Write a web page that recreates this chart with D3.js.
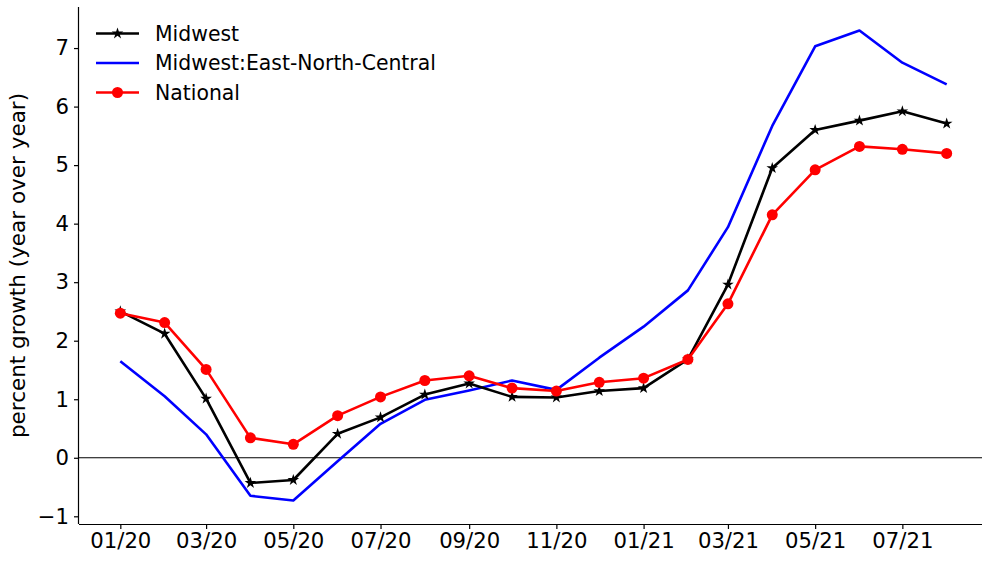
<!DOCTYPE html>
<html>
<head>
<meta charset="utf-8">
<script src="https://cdn.jsdelivr.net/npm/d3@7"></script>
<style>
  html, body { margin: 0; padding: 0; background: #fff; }
  svg { display: block; font-family: "DejaVu Sans", sans-serif; }
</style>
</head>
<body>
<svg id="chart" width="982" height="561"></svg>
<script>
// Monthly year-over-year growth, Jan 2020 – Aug 2021
const months = ["2020-01","2020-02","2020-03","2020-04","2020-05","2020-06","2020-07","2020-08","2020-09","2020-10",
                "2020-11","2020-12","2021-01","2021-02","2021-03","2021-04","2021-05","2021-06","2021-07","2021-08"];
const midwest = [2.50, 2.12, 1.01, -0.43, -0.38, 0.41, 0.69, 1.08, 1.27, 1.04,
                 1.03, 1.14, 1.19, 1.68, 2.96, 4.95, 5.60, 5.76, 5.92, 5.71];
const eastNorthCentral = [1.65, 1.05, 0.40, -0.65, -0.73, -0.06, 0.58, 0.99, 1.15, 1.32,
                          1.16, 1.71, 2.24, 2.86, 3.94, 5.67, 7.03, 7.30, 6.75, 6.38];
const national = [2.47, 2.31, 1.51, 0.34, 0.23, 0.72, 1.04, 1.32, 1.40, 1.19,
                  1.14, 1.29, 1.36, 1.68, 2.63, 4.15, 4.92, 5.32, 5.27, 5.20];
const xTicks = ["2020-01","2020-03","2020-05","2020-07","2020-09","2020-11","2021-01","2021-03","2021-05","2021-07"];
const yTicks = [-1, 0, 1, 2, 3, 4, 5, 6, 7];
const seriesNames = ["Midwest", "Midwest:East-North-Central", "National"];

const parse = d3.timeParse("%Y-%m");
const dates = months.map(parse);

const svg = d3.select("#chart");
const plot = { left: 79, right: 988, top: 7, bottom: 524 };

// matplotlib-style 5% margins around the data
const x0 = dates[0], x1 = dates[dates.length - 1];
const span = x1 - x0;
const x = d3.scaleTime()
  .domain([new Date(+x0 - span * 0.05), new Date(+x1 + span * 0.05)])
  .range([plot.left, plot.right]);
const allY = midwest.concat(eastNorthCentral, national);
const yMin = d3.min(allY), yMax = d3.max(allY), ySpan = yMax - yMin;
const y = d3.scaleLinear()
  .domain([yMin - ySpan * 0.05, yMax + ySpan * 0.05])
  .range([plot.bottom, plot.top]);

const tickFont = 21.2;
const legendFont = 20.4;

// x axis
const xAxis = d3.axisBottom(x)
  .tickValues(xTicks.map(parse))
  .tickFormat(d3.timeFormat("%m/%y"))
  .tickSize(5).tickPadding(4);
const gx = svg.append("g").attr("transform", `translate(0,${plot.bottom})`).call(xAxis);
gx.select(".domain").attr("d", `M${plot.left},0.5H${plot.right}`).attr("stroke", "#000").attr("stroke-width", 1.2);
gx.selectAll(".tick line").attr("stroke", "#000").attr("stroke-width", 1.2);
gx.selectAll(".tick text").attr("font-size", tickFont).attr("fill", "#000").attr("font-family", "DejaVu Sans");

// y axis
const yAxis = d3.axisLeft(y)
  .tickValues(yTicks)
  .tickFormat(d => d < 0 ? "\u2212" + Math.abs(d) : d)
  .tickSize(5).tickPadding(5);
const gy = svg.append("g").attr("transform", `translate(${plot.left},0)`).call(yAxis);
gy.select(".domain").attr("d", `M-0.5,${plot.top}V${plot.bottom}`).attr("stroke", "#000").attr("stroke-width", 1.2);
gy.selectAll(".tick line").attr("stroke", "#000").attr("stroke-width", 1.2);
gy.selectAll(".tick text").attr("font-size", tickFont).attr("fill", "#000").attr("font-family", "DejaVu Sans");

// y label
svg.append("text")
  .attr("transform", `translate(25,${(plot.top + plot.bottom) / 2}) rotate(-90)`)
  .attr("text-anchor", "middle")
  .attr("font-size", 21.5)
  .attr("fill", "#000")
  .text("percent growth (year over year)");

// zero reference line
svg.append("line")
  .attr("x1", plot.left).attr("x2", plot.right)
  .attr("y1", y(0)).attr("y2", y(0))
  .attr("stroke", "#000").attr("stroke-width", 1.1);

const line = d3.line().x((d, i) => x(dates[i])).y(d => y(d));
const star = d3.symbol().type(d3.symbolStar).size(42);

// East-North-Central (no markers)
svg.append("path").datum(eastNorthCentral)
  .attr("d", line).attr("fill", "none").attr("stroke", "#0000ff").attr("stroke-width", 2.6)
  .attr("stroke-linejoin", "round");

// Midwest with star markers
svg.append("path").datum(midwest)
  .attr("d", line).attr("fill", "none").attr("stroke", "#000").attr("stroke-width", 2.6)
  .attr("stroke-linejoin", "round");
svg.append("g").selectAll("path").data(midwest).join("path")
  .attr("d", star)
  .attr("transform", (d, i) => `translate(${x(dates[i])},${y(d)})`)
  .attr("fill", "#000");

// National with circle markers
svg.append("path").datum(national)
  .attr("d", line).attr("fill", "none").attr("stroke", "#ff0000").attr("stroke-width", 2.6)
  .attr("stroke-linejoin", "round");
svg.append("g").selectAll("circle").data(national).join("circle")
  .attr("cx", (d, i) => x(dates[i])).attr("cy", d => y(d))
  .attr("r", 5.5).attr("fill", "#ff0000");

// legend
const legendItems = [
  { name: seriesNames[0], color: "#000", marker: "star" },
  { name: seriesNames[1], color: "#0000ff", marker: null },
  { name: seriesNames[2], color: "#ff0000", marker: "circle" }
];
const lg = svg.append("g");
legendItems.forEach((it, i) => {
  const yy = 33.5 + i * 29.5;
  lg.append("line").attr("x1", 96).attr("x2", 139).attr("y1", yy).attr("y2", yy)
    .attr("stroke", it.color).attr("stroke-width", 2.6);
  if (it.marker === "star") {
    lg.append("path").attr("d", star).attr("transform", `translate(117.5,${yy})`).attr("fill", it.color);
  } else if (it.marker === "circle") {
    lg.append("circle").attr("cx", 117.5).attr("cy", yy).attr("r", 5.5).attr("fill", it.color);
  }
  lg.append("text").attr("x", 155).attr("y", yy).attr("dy", "0.35em")
    .attr("font-size", legendFont).attr("fill", "#000").text(it.name);
});
</script>
</body>
</html>
